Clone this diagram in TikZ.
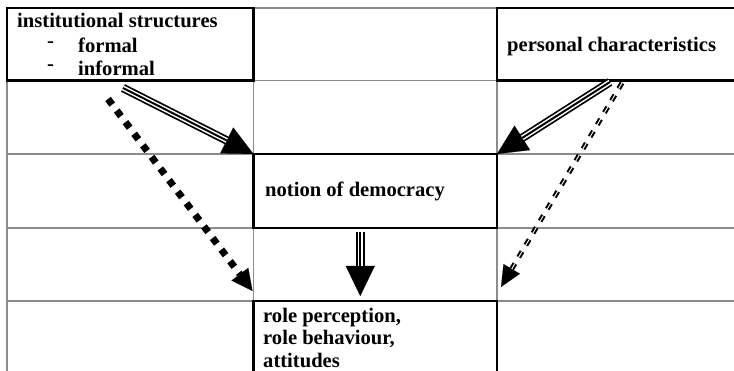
\documentclass[tikz,border=0pt]{standalone}
\usepackage{fontspec}
\setmainfont{Liberation Serif}
\usetikzlibrary{arrows.meta,calc}
\begin{document}
\begin{tikzpicture}[x=1pt,y=-1pt,
  gridline/.style={draw=black!45, line width=1.1pt},
  box/.style={draw=black, line width=2.5pt, rectangle, inner sep=0pt, outer sep=0pt, anchor=north west},
  txt/.style={font=\fontsize{20.6}{23}\selectfont\bfseries, inner sep=0pt, anchor=base west},
  triple/.style={line width=8.5pt, -{Triangle[length=30pt,width=29pt,line width=0.1pt]},
     postaction={draw=white, line width=5pt, shorten >=30pt, -},
     postaction={draw=black, line width=2pt, shorten >=30pt, -}},
  dotarrow/.style={line width=7pt, dash pattern=on 7pt off 7.5pt, -{Triangle[length=21pt,width=21pt,line width=0.1pt]}},
  dasharrow/.style={line width=5pt, dash pattern=on 6.5pt off 7.5pt, -{Triangle[length=21pt,width=19pt,line width=0.1pt]},
     postaction={draw=white, line width=0.9pt, shorten >=21pt, -, dash pattern=on 6.5pt off 7.5pt}},
]
\useasboundingbox (0,0) rectangle (734,371);
\clip (0,0) rectangle (734,371);
% grid
\foreach \yy in {8,80.5,154,228,301} \draw[gridline] (7,\yy) -- (760,\yy);
\foreach \xx in {7,253.5,497} \draw[gridline] (\xx,8) -- (\xx,400);
% boxes
\node[box, minimum width=246.5pt, minimum height=72.5pt] (A) at (7,8) {};
\node[box, minimum width=260pt, minimum height=72.5pt] (B) at (497,8) {};
\node[box, minimum width=243.5pt, minimum height=74pt] (C) at (253.5,154) {};
\node[box, minimum width=243.5pt, minimum height=100pt] (D) at (253.5,301) {};
% texts
\node[txt] (t1) at (17,28) {institutional structures};
\node[txt, anchor=base] (d1) at (50.5,48) {-};
\node[txt] (t2) at (78,53) {formal};
\node[txt, anchor=base] (d2) at (50.5,71) {-};
\node[txt] (t3) at (78,76) {informal};
\node[txt] (p) at (507,52) {personal characteristics};
\node[txt] (n) at (265,197) {notion of democracy};
\node[txt] (r1) at (263,323) {role perception,};
\node[txt] (r2) at (263,345) {role behaviour,};
\node[txt] (r3) at (263,367) {attitudes};
% arrows
\coordinate (s1) at (123,88);
\coordinate (s2) at (610,82);
\coordinate (s3) at (108,99);
\coordinate (s4) at (622,83);
\draw[dotarrow] (s3) -- ($(D.north west)+(-1,-10)$);
\draw[dasharrow] (s4) -- ($(D.north east)+(4,-14)$);
\draw[triple] (s1) -- (C.north west);
\draw[triple] (s2) -- (C.north east);
\draw[triple] ($(C.south)+(-15,4)$) -- ($(D.north)+(-15,-5)$);
\end{tikzpicture}
\end{document}
